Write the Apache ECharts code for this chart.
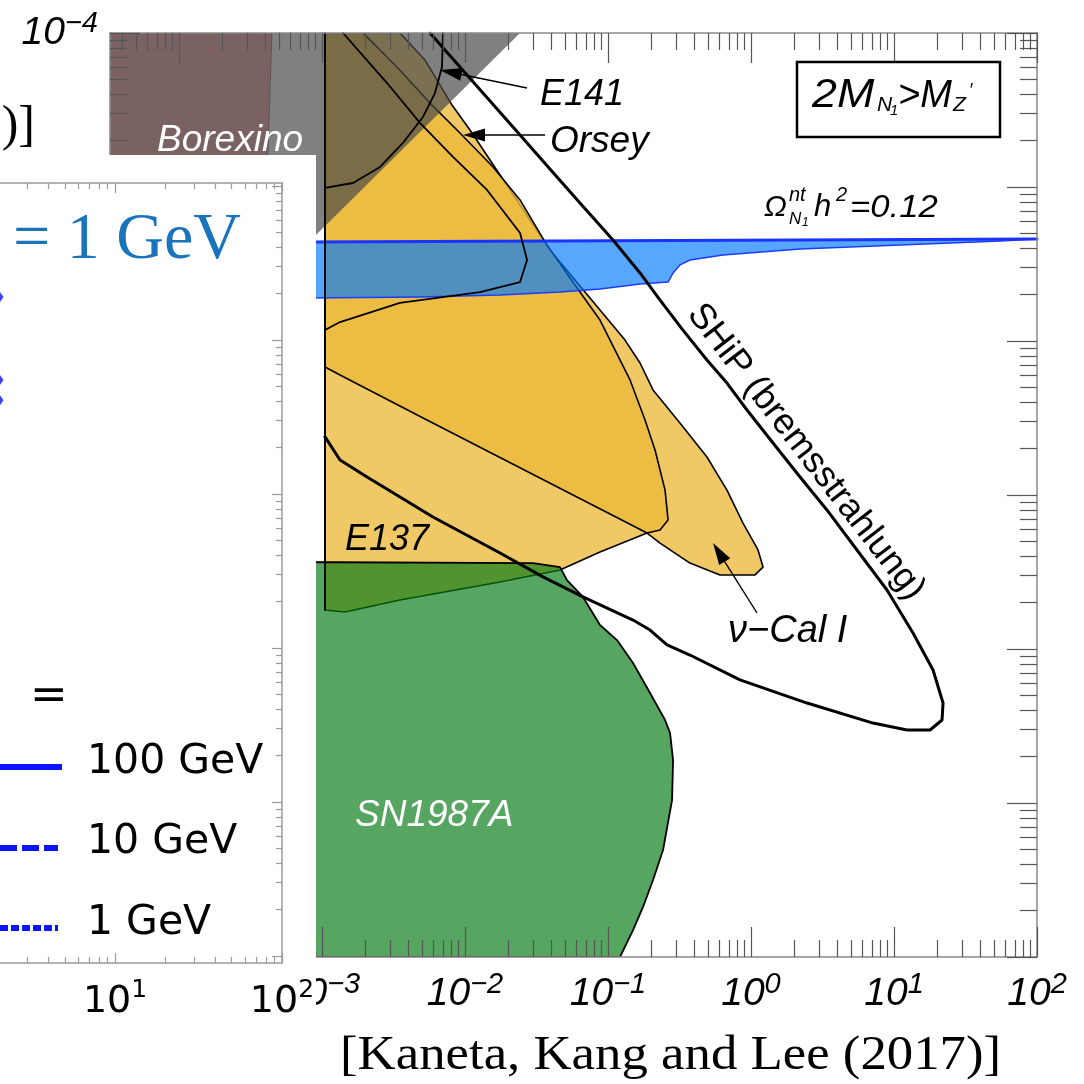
<!DOCTYPE html>
<html>
<head>
<meta charset="utf-8">
<title>Z' coupling constraints</title>
<script src="https://cdn.jsdelivr.net/npm/echarts@6/dist/echarts.min.js"></script>
<style>
  html, body { margin: 0; padding: 0; background: #fff; }
  #chart { width: 1084px; height: 1084px; }
</style>
</head>
<body>
<div id="chart"></div>
<script>
// Main panel: x = log10(M_Z' / GeV), y = log10(coupling). Vertices are [log10 x, log10 y].
const mainXRange = [-4.4825, 2];
const mainYRange = [-10, -4];
const mainXLabels = [-3, -2, -1, 0, 1, 2];
const mainYLabels = [-10, -9, -8, -7, -6, -5, -4];

const borexino = [[-4.5, -4.0], [-3.350, -4.0], [-3.378, -4.792], [-3.42, -6.4], [-4.5, -6.4]];
const beamDumpShade = [[-4.5, -4.0], [-1.615, -4.0], [-4.5, -6.651]];

const beamDumpUnion = [
  [-2.979, -4.000], [-2.455, -4.000], [-2.280, -4.175], [-2.091, -4.468], [-1.965, -4.630],
  [-1.825, -4.825], [-1.685, -5.019], [-1.545, -5.214], [-1.406, -5.409], [-1.231, -5.604],
  [-1.056, -5.799], [-0.881, -5.994], [-0.776, -6.143], [-0.685, -6.318], [-0.497, -6.532],
  [-0.308, -6.753], [-0.168, -6.968], [-0.056, -7.182], [0.049, -7.357], [0.084, -7.468],
  [0.028, -7.519], [-0.217, -7.519], [-0.427, -7.442], [-0.636, -7.312], [-0.727, -7.247],
  [-1.056, -7.370], [-1.336, -7.487], [-1.755, -7.565], [-2.455, -7.682], [-2.839, -7.760],
  [-2.979, -7.747]
];
const beamDumpCore = [
  [-2.979, -4.0], [-2.713, -4.0], [-2.476, -4.221], [-2.245, -4.455], [-2.035, -4.649],
  [-1.804, -4.870], [-1.615, -5.084], [-1.427, -5.377], [-1.231, -5.636], [-1.056, -5.864],
  [-0.846, -6.253], [-0.741, -6.513], [-0.671, -6.708], [-0.601, -6.968], [-0.580, -7.162],
  [-0.636, -7.227], [-0.727, -7.247], [-2.266, -6.513], [-2.874, -6.221], [-2.979, -6.169]
];
const sn1987a = [
  [-3.3, -7.435], [-1.524, -7.442], [-1.336, -7.468], [-1.287, -7.552], [-1.175, -7.662],
  [-1.056, -7.844], [-0.937, -7.942], [-0.825, -8.091], [-0.706, -8.286], [-0.601, -8.461],
  [-0.566, -8.545], [-0.545, -8.721], [-0.552, -8.981], [-0.615, -9.305], [-0.685, -9.500],
  [-0.755, -9.675], [-0.825, -9.825], [-0.916, -10.0], [-3.3, -10.0]
];
const relicBand = [
  [-3.1, -5.357], [2.0, -5.338], [1.741, -5.351], [1.042, -5.377], [0.343, -5.403],
  [-0.196, -5.442], [-0.427, -5.474], [-0.497, -5.506], [-0.545, -5.558], [-0.580, -5.617],
  [-0.776, -5.630], [-1.056, -5.662], [-1.336, -5.682], [-1.755, -5.701], [-2.315, -5.714],
  [-3.1, -5.721]
];
const relicUpper = [[-3.1, -5.357], [2.0, -5.338]];
const shipReach = [
  [-2.245, -4.000], [-2.035, -4.221], [-1.825, -4.442], [-1.615, -4.662], [-1.406, -4.883],
  [-1.196, -5.104], [-0.965, -5.344], [-0.776, -5.558], [-0.636, -5.734], [-0.476, -5.929],
  [-0.308, -6.123], [-0.168, -6.273], [-0.028, -6.448], [0.154, -6.662], [0.343, -6.883],
  [0.531, -7.097], [0.741, -7.357], [0.951, -7.617], [1.133, -7.896], [1.273, -8.136],
  [1.343, -8.351], [1.336, -8.461], [1.252, -8.526], [1.091, -8.526], [0.853, -8.481],
  [0.392, -8.351], [-0.077, -8.201], [-0.427, -8.039], [-0.587, -7.974], [-0.706, -7.877],
  [-0.825, -7.812], [-1.175, -7.662], [-1.455, -7.532], [-1.755, -7.377], [-2.224, -7.143],
  [-2.685, -6.883], [-2.874, -6.773], [-2.979, -6.623]
];
const e141Edge = [
  [-2.979, -5.006], [-2.783, -4.974], [-2.594, -4.870], [-2.434, -4.714], [-2.294, -4.545],
  [-2.210, -4.390], [-2.161, -4.221], [-2.154, -4.0]
];
const orseyEdge = [
  [-2.853, -4.0], [-2.545, -4.325], [-2.315, -4.584], [-2.084, -4.805], [-1.846, -5.019],
  [-1.615, -5.299], [-1.566, -5.474], [-1.615, -5.617], [-1.895, -5.682], [-2.455, -5.753],
  [-2.874, -5.877], [-2.979, -5.929]
];
const e137Left = [[-2.979, -4.0], [-2.979, -7.747]];

// Inset panel (partly shown): x = log10(mass / GeV), y in decades
const insetXRange = [0.311, 2];
const insetYRange = [-5.045, 0.02];
const insetXLabels = [1, 2];
const insetLegend = ['100 GeV', '10 GeV', '1 GeV'];
// curve ends cut by the inset's left edge: [x, y] in inset units
const insetCurveEnds = [[0.311, -0.721], [0.311, -1.260], [0.311, -1.390]];

function majorTicks(r) {
  const o = [];
  for (let v = Math.ceil(r[0]); v <= Math.floor(r[1]); v++) o.push(v);
  return o;
}
function minorTicks(r) {
  const o = [];
  for (let d = Math.floor(r[0]); d < Math.ceil(r[1]); d++) {
    for (let k = 2; k < 10; k++) {
      const v = d + Math.log10(k);
      if (v > r[0] + 1e-6 && v < r[1] - 1e-6) o.push(+v.toFixed(6));
    }
  }
  return o;
}
function sup(v) { return v < 0 ? '\u2212' + Math.abs(v) : String(v); }

const FRAME = '#8a8a8a';
const TICK = '#555';
const SANS = 'Liberation Sans';

function tickAxis(gridIndex, position, range, ticks, len, color, z, frame) {
  return {
    type: 'value', gridIndex, position, min: range[0], max: range[1], z,
    splitLine: { show: false },
    axisLine: { show: !!frame, onZero: false, lineStyle: { color: frame || color, width: 1.5 } },
    axisTick: { show: true, inside: true, length: len, customValues: ticks, lineStyle: { color, width: 1.2 } },
    axisLabel: { show: false }
  };
}

const mainLabelRich = {
  b: { fontFamily: SANS, fontStyle: 'italic', fontSize: 39, lineHeight: 48, color: '#000' },
  s: { fontFamily: SANS, fontStyle: 'italic', fontSize: 29, lineHeight: 16, verticalAlign: 'top', color: '#000' }
};
const insetLabelRich = {
  b: { fontFamily: 'DejaVu Sans', fontSize: 38, lineHeight: 48, color: '#000' },
  s: { fontFamily: 'DejaVu Sans', fontSize: 25, lineHeight: 18, verticalAlign: 'top', color: '#000' }
};

// main panel axes (ticks on all four sides)
const mx0 = tickAxis(0, 'bottom', mainXRange, majorTicks(mainXRange), 30, TICK, 10, FRAME);
mx0.axisLabel = { show: true, customValues: mainXLabels, margin: 13, rich: mainLabelRich,
  formatter: v => '{b|10}{s|' + sup(Math.round(v)) + '}' };
const mx1 = tickAxis(0, 'bottom', mainXRange, minorTicks(mainXRange), 17, TICK, 10);
const mx2 = tickAxis(0, 'top', mainXRange, majorTicks(mainXRange), 30, TICK, 10, FRAME);
const mx3 = tickAxis(0, 'top', mainXRange, minorTicks(mainXRange), 17, TICK, 10);
const my0 = tickAxis(0, 'left', mainYRange, majorTicks(mainYRange), 30, TICK, 10, FRAME);
my0.axisLabel = { show: true, customValues: mainYLabels, margin: 12, rich: mainLabelRich,
  formatter: v => '{b|10}{s|' + sup(Math.round(v)) + '}' };
const my1 = tickAxis(0, 'left', mainYRange, minorTicks(mainYRange), 17, TICK, 10);
const my2 = tickAxis(0, 'right', mainYRange, majorTicks(mainYRange), 30, TICK, 10, FRAME);
const my3 = tickAxis(0, 'right', mainYRange, minorTicks(mainYRange), 17, TICK, 10);

// inset panel axes
const IT = '#9a9a9a';
const ix0 = tickAxis(1, 'bottom', insetXRange, majorTicks(insetXRange), 10, IT, 30, '#9a9a9a');
ix0.axisLabel = { show: true, customValues: insetXLabels, margin: 15, rich: insetLabelRich,
  formatter: v => '{b|10}{s|' + sup(Math.round(v)) + '}' };
const ix1 = tickAxis(1, 'bottom', insetXRange, minorTicks(insetXRange), 6, IT, 30);
const ix2 = tickAxis(1, 'top', insetXRange, majorTicks(insetXRange), 10, IT, 30, '#9a9a9a');
const ix3 = tickAxis(1, 'top', insetXRange, minorTicks(insetXRange), 6, IT, 30);
const iy0 = tickAxis(1, 'right', insetYRange, majorTicks(insetYRange), 10, IT, 30, '#9a9a9a');
const iy1 = tickAxis(1, 'right', insetYRange, minorTicks(insetYRange), 6, IT, 30);

function region(name, pts, fill, stroke, lw, z) {
  return {
    type: 'custom', name, xAxisIndex: 0, yAxisIndex: 0, z, clip: true, silent: true,
    data: pts,
    renderItem: function (params, api) {
      if (params.dataIndex !== 0) return null;
      return {
        type: 'polygon',
        shape: { points: pts.map(p => api.coord(p)) },
        style: { fill, stroke: stroke || null, lineWidth: lw || 0, lineJoin: 'round' }
      };
    }
  };
}
function edge(name, pts, color, width, z) {
  return {
    type: 'line', name, xAxisIndex: 0, yAxisIndex: 0, z, silent: true,
    data: pts, showSymbol: false, symbol: 'none', smooth: false,
    lineStyle: { color, width, join: 'round', cap: 'round' }
  };
}

const series = [
  region('Borexino', borexino, 'rgb(237,154,154)', 'rgba(0,0,0,0.45)', 1, 1),
  region('beam dump', beamDumpUnion, 'rgba(236,184,58,0.78)', '#000', 1.6, 2),
  region('beam dump core', beamDumpCore, 'rgba(236,184,58,0.78)', '#000', 1.6, 2),
  region('SN1987A', sn1987a, 'rgba(6,123,20,0.68)', '#000', 1.8, 2),
  region('shade', beamDumpShade, 'rgba(74,74,74,0.7)', null, 0, 3),
  region('relic', relicBand, 'rgba(0,120,255,0.66)', '#1a3cff', 1.5, 3),
  edge('relic upper', relicUpper, '#1a33ff', 3, 4),
  edge('E137 left', e137Left, '#000', 1.8, 4),
  edge('E141', e141Edge, '#000', 1.8, 4),
  edge('Orsey', orseyEdge, '#000', 1.8, 4),
  edge('SHiP', shipReach, '#000', 3, 4),
  {
    type: 'scatter', name: 'inset curve ends', xAxisIndex: 4, yAxisIndex: 4, z: 35, silent: true,
    data: insetCurveEnds, symbol: 'diamond', symbolSize: [7, 10], itemStyle: { color: '#0a14ff' }
  }
];

// annotations
function txt(x, y, text, size, opts) {
  opts = opts || {};
  return {
    type: 'text', x, y, z: 40, rotation: opts.rotation || 0, scaleX: opts.scaleX || 1, silent: true,
    style: {
      text, fill: opts.color || '#000', fontSize: size, fontFamily: opts.family || SANS,
      fontStyle: opts.style || 'italic', align: opts.align || 'left', verticalAlign: 'middle'
    }
  };
}
function arrow(x1, y1, x2, y2) {
  const a = Math.atan2(y2 - y1, x2 - x1), L = 22, W = 6.5;
  const bx = x2 - L * Math.cos(a), by = y2 - L * Math.sin(a);
  const nx = -Math.sin(a), ny = Math.cos(a);
  return [
    { type: 'line', z: 40, silent: true, shape: { x1, y1, x2: bx, y2: by }, style: { stroke: '#000', lineWidth: 1.4 } },
    { type: 'polygon', z: 40, silent: true, shape: { points: [[x2, y2], [bx + nx * W, by + ny * W], [bx - nx * W, by - ny * W]] }, style: { fill: '#000' } }
  ];
}

const DEJAVU = { family: 'DejaVu Sans', style: 'normal' };

const graphics = [
  { type: 'rect', z: 20, silent: true, shape: { x: 0, y: 155, width: 316, height: 929 }, style: { fill: '#fff' } },
  txt(157, 141, 'Borexino', 37, { color: '#fff' }),
  txt(540, 95, 'E141', 36),
  txt(550, 142, 'Orsey', 37),
  txt(345, 540, 'E137', 36),
  txt(355, 816, 'SN1987A', 37, { color: '#fff' }),
  txt(728, 631, '\u03bd\u2212Cal I', 38),
  txt(806, 452, 'SHiP (bremsstrahlung)', 36, { style: 'normal', align: 'center', rotation: -0.91 }),
  { type: 'rect', z: 40, silent: true, shape: { x: 797, y: 62, width: 203, height: 75 }, style: { fill: null, stroke: '#000', lineWidth: 2.5 } },
  txt(812, 96, '2M', 40, { scaleX: 1.12 }),
  txt(877, 105, 'N', 21),
  txt(890, 111, '1', 15),
  txt(898, 96, '>M', 38),
  txt(953, 105, 'Z', 21),
  txt(969, 91, '\u2032', 18),
  txt(764, 208, '\u03a9', 30),
  txt(789, 195, 'nt', 20),
  txt(789, 219, 'N', 17),
  txt(802, 223, '1', 12),
  txt(814, 207, 'h', 31),
  txt(836, 195, '2', 20),
  txt(850, 208, '=0.12', 31, { scaleX: 1.12 }),
  txt(35, 127, ')]', 50, { family: 'Liberation Serif', style: 'normal', align: 'right' }),
  txt(340, 1056, '[Kaneta, Kang and Lee (2017)]', 48, { family: 'Liberation Serif', style: 'normal', scaleX: 1.1 }),
  txt(13, 241, '= 1 GeV', 66, { family: 'Liberation Serif', style: 'normal', color: '#1a74bd' }),
  txt(30, 697, '=', 45, DEJAVU),
  txt(87, 762, insetLegend[0], 41, DEJAVU),
  txt(87, 842, insetLegend[1], 41, DEJAVU),
  txt(87, 923, insetLegend[2], 41, DEJAVU),
  { type: 'line', z: 40, silent: true, shape: { x1: 0, y1: 767, x2: 62, y2: 767 }, style: { stroke: '#0a14ff', lineWidth: 6 } },
  { type: 'line', z: 40, silent: true, shape: { x1: 0, y1: 848, x2: 58, y2: 848 }, style: { stroke: '#0a14ff', lineWidth: 6, lineDash: [17, 5] } },
  { type: 'line', z: 40, silent: true, shape: { x1: 0, y1: 928, x2: 58, y2: 928 }, style: { stroke: '#0a14ff', lineWidth: 6, lineDash: [8, 3] } }
].concat(arrow(527, 88, 440, 70), arrow(545, 135, 463, 135), arrow(757, 613, 713, 543));

const chart = echarts.init(document.getElementById('chart'), null, { renderer: 'canvas' });
chart.setOption({
  animation: false,
  backgroundColor: '#fff',
  grid: [
    { left: 110, top: 33, width: 927, height: 924, containLabel: false, outerBoundsMode: 'none' },
    { left: 0, top: 183, width: 282, height: 780, containLabel: false, outerBoundsMode: 'none' }
  ],
  xAxis: [mx0, mx1, mx2, mx3, ix0, ix1, ix2, ix3],
  yAxis: [my0, my1, my2, my3, iy0, iy1],
  series,
  graphic: { elements: graphics }
});
</script>
</body>
</html>
